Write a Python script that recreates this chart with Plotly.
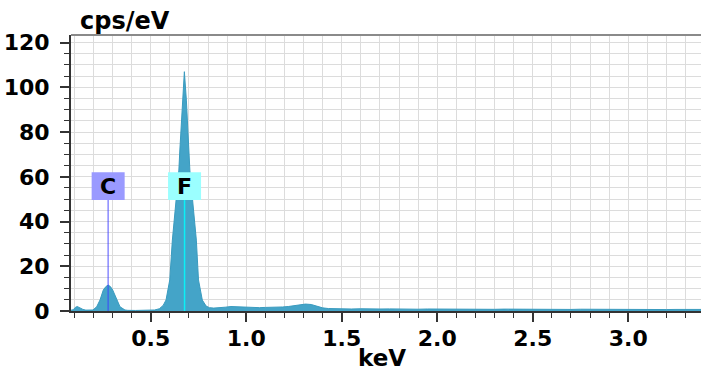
import plotly.graph_objects as go

# ---- spectrum data (keV, cps/eV) ----
energy = [0.080, 0.095, 0.105, 0.115, 0.125, 0.135, 0.145, 0.160, 0.180, 0.1977, 0.217, 0.2343,
          0.2516, 0.265, 0.277, 0.289, 0.3008, 0.3218, 0.339, 0.365, 0.38, 0.42, 0.46, 0.50,
          0.52, 0.545, 0.565, 0.580, 0.5996, 0.6132, 0.6315, 0.6472, 0.6524, 0.6655, 0.676,
          0.6865, 0.6996, 0.7048, 0.7205, 0.7388, 0.750, 0.770, 0.790, 0.807,
          0.83, 0.86, 0.89, 0.92, 0.95, 0.98, 1.01, 1.04, 1.07, 1.10, 1.13, 1.16, 1.19, 1.22,
          1.25, 1.28, 1.31, 1.34, 1.37, 1.40, 1.43, 1.46,
          1.50, 1.55, 1.60, 1.65, 1.70, 1.75, 1.80, 1.85, 1.90, 1.95, 2.00, 2.05, 2.10, 2.15,
          2.20, 2.25, 2.30, 2.35, 2.40, 2.45, 2.50, 2.55, 2.60, 2.65, 2.70, 2.75, 2.80, 2.85,
          2.90, 2.95, 3.00, 3.05, 3.10, 3.15, 3.20, 3.25, 3.30, 3.35, 3.40]
counts = [0.3, 0.6, 1.6, 2.0, 1.6, 1.1, 0.7, 0.4, 0.3, 0.45, 1.9, 4.9,
          9.4, 10.9, 11.6, 10.9, 9.4, 4.9, 1.9, 0.45, 0.3, 0.25, 0.3, 0.35,
          0.45, 1.0, 2.5, 4.9, 13.9, 31.7, 48.3, 63.0, 72.0, 94.3, 107.0,
          94.3, 72.0, 63.0, 48.3, 31.7, 13.9, 4.9, 2.2, 1.5,
          1.3, 1.4, 1.7, 2.0, 1.9, 1.6, 1.5, 1.4, 1.5, 1.6, 1.6, 1.7, 1.8, 2.0,
          2.3, 2.8, 3.1, 2.9, 2.2, 1.4, 1.1, 1.0,
          0.95, 0.9, 1.0, 0.85, 0.9, 0.95, 0.85, 0.9, 0.8, 0.9, 0.85, 0.8, 0.9, 0.8,
          0.85, 0.8, 0.75, 0.85, 0.8, 0.75, 0.8, 0.85, 0.75, 0.8, 0.7, 0.8, 0.75, 0.7,
          0.8, 0.7, 0.75, 0.7, 0.75, 0.7, 0.65, 0.7, 0.7, 0.65, 0.7]

# ---- element markers ----
elements = ["C", "F"]
element_energy = [0.277, 0.677]
element_box_color = ["#9a9aff", "#9bffff"]
element_line_color = ["rgba(60,60,255,0.6)", "rgba(0,255,255,0.85)"]

x_tick_labels = ["0.5", "1.0", "1.5", "2.0", "2.5", "3.0"]
y_tick_labels = ["0", "20", "40", "60", "80", "100", "120"]

FONT = "DejaVu Sans"
BLACK = "#000000"

fig = go.Figure()
fig.add_trace(go.Scatter(
    x=energy, y=counts, mode="lines", fill="tozeroy",
    fillcolor="#44a4c8", line=dict(color="#3a9bbf", width=1),
    hoverinfo="skip", showlegend=False,
))

shapes = []
annotations = []
box_lo, box_hi = 49.6, 62.0
half_w = 0.0864
for el, e, bc, lc in zip(elements, element_energy, element_box_color, element_line_color):
    shapes.append(dict(type="line", xref="x", yref="y", x0=e, x1=e, y0=0, y1=box_lo,
                       line=dict(color=lc, width=1.5), layer="above"))
    shapes.append(dict(type="rect", xref="x", yref="y", x0=e - half_w, x1=e + half_w,
                       y0=box_lo, y1=box_hi, fillcolor=bc, line=dict(width=0), layer="above"))
    annotations.append(dict(x=e, y=(box_lo + box_hi) / 2, xref="x", yref="y", text=el,
                            showarrow=False, font=dict(family=FONT, size=22, color=BLACK, weight="bold"),
                            xanchor="center", yanchor="middle"))

# top border
shapes.append(dict(type="line", xref="paper", yref="paper", x0=0, x1=1, y0=1, y1=1,
                   line=dict(color="#8a8a8a", width=2), layer="above"))

annotations.append(dict(x=0.011, y=1.0507, xref="paper", yref="paper", text="cps/eV",
                        showarrow=False, xanchor="left", yanchor="middle",
                        font=dict(family=FONT, size=24, color=BLACK, weight="bold")))
annotations.append(dict(x=(382 - 71) / 630, y=(311 - 358) / 276, xref="paper", yref="paper", text="keV",
                        showarrow=False, xanchor="center", yanchor="middle",
                        font=dict(family=FONT, size=23, color=BLACK, weight="bold")))

grid_col = "#dcdcdc"
fig.update_layout(
    width=701, height=371,
    margin=dict(l=71, r=0, t=35, b=60),
    paper_bgcolor="white", plot_bgcolor="white",
    shapes=shapes, annotations=annotations,
    xaxis=dict(
        range=[0.0825, 3.381],
        tickmode="array", tickvals=[float(t) for t in x_tick_labels], ticktext=x_tick_labels,
        ticks="outside", ticklen=9, tickwidth=1.5, tickcolor="#333333",
        showline=True, linecolor="#333333", linewidth=2,
        showgrid=True, gridcolor=grid_col, gridwidth=1,
        zeroline=False, ticklabelstandoff=-2,
        minor=dict(dtick=0.1, tick0=0, ticks="outside", ticklen=5, tickwidth=1.2,
                   tickcolor="#333333", showgrid=True, gridcolor=grid_col, gridwidth=1),
        tickfont=dict(family=FONT, size=22, color=BLACK, weight="bold"),
    ),
    yaxis=dict(
        range=[0, 123.4],
        tickmode="array", tickvals=[float(t) for t in y_tick_labels], ticktext=y_tick_labels,
        ticks="outside", ticklen=9, tickwidth=1.5, tickcolor="#333333",
        showline=True, linecolor="#333333", linewidth=2,
        showgrid=True, gridcolor=grid_col, gridwidth=1,
        zeroline=False, ticklabelstandoff=6,
        minor=dict(dtick=5, tick0=0, ticks="outside", ticklen=5, tickwidth=1.2,
                   tickcolor="#333333", showgrid=True, gridcolor=grid_col, gridwidth=1),
        tickfont=dict(family=FONT, size=22, color=BLACK, weight="bold"),
    ),
)

fig.write_html("out.html")
